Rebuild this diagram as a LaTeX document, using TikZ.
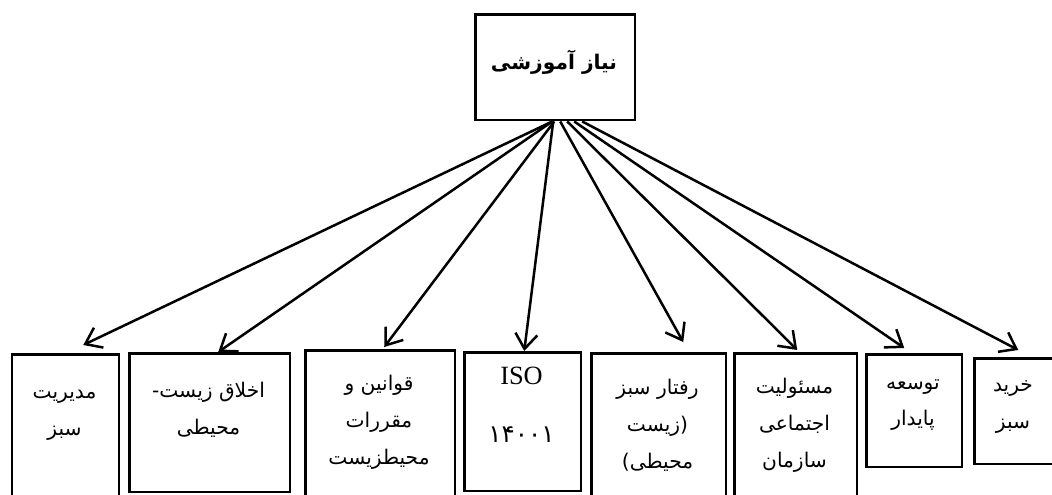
\documentclass[tikz,border=0pt]{standalone}
\usepackage{fontspec}
\setmainfont{Liberation Serif}
\newfontfamily\fa[Script=Arabic]{DejaVu Sans}
\TeXXeTstate=1
\usetikzlibrary{arrows.meta}
\tikzset{
  cell/.style={rectangle, draw=black, line width=0.05cm, inner sep=0pt, anchor=north west},
  txt/.style={align=center, inner sep=0pt, font=\fa\fontsize{11.5}{21}\selectfont},
  link/.style={line width=0.05cm, -{Straight Barb[length=0.3cm, width=0.44cm]}}
}
\begin{document}
\begin{tikzpicture}[x=0.02cm, y=-0.02cm]
\useasboundingbox (0,0) rectangle (1052,494);
% root box
\node (need) [cell, minimum width=3.2cm, minimum height=2.12cm] at (474,13) {};
\node (need-t) [txt, font=\fa\bfseries\fontsize{11.5}{21}\selectfont] at (554,62) {\beginR نیاز آموزشی\endR};
% bottom boxes
\node (mgmt) [cell, minimum width=2.14cm, minimum height=2.94cm] at (11,353) {};
\node (ethics) [cell, minimum width=3.22cm, minimum height=2.78cm] at (128,352) {};
\node (laws) [cell, minimum width=3.0cm, minimum height=3.0cm] at (304,349) {};
\node (iso) [cell, minimum width=2.34cm, minimum height=2.78cm] at (463,351) {};
\node (behav) [cell, minimum width=2.7cm, minimum height=2.96cm] at (590,352) {};
\node (resp) [cell, minimum width=2.46cm, minimum height=2.96cm] at (733,352) {};
\node (sust) [cell, minimum width=1.92cm, minimum height=2.26cm] at (865,353) {};
\node (buy) [cell, minimum width=1.66cm, minimum height=2.12cm] at (973,357) {};
% texts
\node (mgmt-t) [txt] at (64.5,415) {\beginR مدیریت\endR\\\beginR سبز\endR};
\node (ethics-t) [txt] at (208.5,410) {\beginR اخلاق زیست-\endR\\\beginR محیطی\endR};
\node (laws-t) [txt] at (379,422) {\beginR قوانین و\endR\\\beginR مقررات\endR\\\beginR محیطزیست\endR};
\node (iso-t) [txt, font=\fontsize{15}{21}\selectfont] at (521.5,405) {ISO\\[12pt]{\fa\fontsize{14}{21}\selectfont ۱۴۰۰۱}};
\node (behav-t) [txt] at (657.5,425) {\beginR رفتار سبز\endR\\\beginR (زیست\endR\\\beginR محیطی)\endR};
\node (resp-t) [txt] at (794.5,425) {\beginR مسئولیت\endR\\\beginR اجتماعی\endR\\\beginR سازمان\endR};
\node (sust-t) [txt] at (913,405) {\beginR توسعه\endR\\\beginR پایدار\endR};
\node (buy-t) [txt] at (1013,407) {\beginR خرید\endR\\\beginR سبز\endR};
% arrows
\draw [link] ([xshift=-0.06cm]need.south) -- ([xshift=0.35cm, yshift=0.16cm]mgmt.north);
\draw [link] ([xshift=-0.06cm]need.south) -- ([xshift=0.17cm]ethics.north);
\draw [link] ([xshift=-0.02cm]need.south) -- ([xshift=0.08cm, yshift=0.04cm]laws.north);
\draw [link] ([xshift=-0.04cm]need.south) -- ([xshift=0.03cm]iso.north);
\draw [link] ([xshift=0.1cm]need.south) -- ([xshift=0.49cm, yshift=0.2cm]behav.north);
\draw [link] ([xshift=0.24cm]need.south) -- ([xshift=0.03cm, yshift=0.04cm]resp.north);
\draw [link] ([xshift=0.38cm]need.south) -- ([xshift=-0.2cm, yshift=0.1cm]sust.north);
\draw [link] ([xshift=0.54cm]need.south) -- ([xshift=0.05cm, yshift=0.14cm]buy.north);
\end{tikzpicture}
\end{document}
